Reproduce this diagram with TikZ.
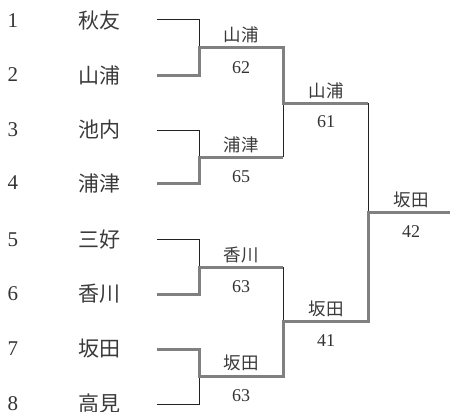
\documentclass[tikz,border=0pt]{standalone}
\usepackage{fontspec}
\newfontfamily\cjk{Noto Sans CJK JP}
\newfontfamily\dig{Liberation Serif}
\definecolor{txt}{HTML}{333333}
\definecolor{ctxt}{HTML}{3A3A3A}
\definecolor{win}{HTML}{808080}
\definecolor{lose}{HTML}{222222}
\begin{document}
\begin{tikzpicture}[x=1pt,y=-1pt,
  seed/.style={text=txt,font=\dig\fontsize{21}{21}\selectfont,anchor=center,inner sep=0pt},
  player/.style={text=ctxt,font=\cjk\fontsize{21}{21}\selectfont,anchor=center,inner sep=0pt},
  wname/.style={text=ctxt,font=\cjk\fontsize{17.5}{17.5}\selectfont,anchor=center,inner sep=0pt},
  score/.style={text=txt,font=\dig\fontsize{18}{18}\selectfont,anchor=center,inner sep=0pt},
  thin/.style={draw=lose,line width=1pt},
  thick/.style={draw=win,line width=3pt,line join=miter}]
\useasboundingbox (0,0) rectangle (450,412);
% seeds and players
\foreach \i/\n/\y in {1/秋友/21,2/山浦/75,3/池内/130,4/浦津/183,5/三好/240,6/香川/294,7/坂田/349,8/高見/404}{
  \node[seed] (s\i) at (13,\y) {\i};
  \node[player] (n\i) at (99,\y) {\n};
}
% line starts and round-1 corners
\foreach \i/\y in {1/20,2/76,3/130,4/183,5/239,6/294,7/349,8/404}{
  \coordinate (a\i) at (157,\y);
  \coordinate (b\i) at (199,\y);
}
% match junctions
\coordinate (m1) at (199,48);  \coordinate (e1) at (283,48);
\coordinate (m2) at (199,157); \coordinate (e2) at (283,157);
\coordinate (m3) at (199,267); \coordinate (e3) at (283,267);
\coordinate (m4) at (199,376); \coordinate (e4) at (283,376);
\coordinate (r1) at (283,103); \coordinate (f1) at (368,103);
\coordinate (r2) at (283,321); \coordinate (f2) at (368,321);
\coordinate (fm) at (368,212); \coordinate (fe) at (450,212);
% thin (losing) lines
\draw[thin] (a1) -- (b1) -- (m1);
\draw[thin] (a3) -- (b3) -- (m2);
\draw[thin] (a5) -- (b5) -- (m3);
\draw[thin] (a8) -- (b8) -- (m4);
\draw[thin] (e2) -- (r1);
\draw[thin] (e3) -- (r2);
\draw[thin] (f1) -- (fm);
% thick (winning) lines
\draw[thick] (a2) -- (b2) -- (m1) -- (e1) -- (r1) -- (f1);
\draw[thick] (a4) -- (b4) -- (m2) -- (e2);
\draw[thick] (a6) -- (b6) -- (m3) -- (e3);
\draw[thick] (a7) -- (b7) -- (m4) -- (e4) -- (r2) -- (f2) -- (fm) -- (fe);
% winner labels and scores
\node[wname] (w1) at (241,35) {山浦};  \node[score] (c1) at (241,68) {62};
\node[wname] (w2) at (241,145) {浦津}; \node[score] (c2) at (241,177) {65};
\node[wname] (w3) at (241,255) {香川}; \node[score] (c3) at (241,287) {63};
\node[wname] (w4) at (241,363) {坂田}; \node[score] (c4) at (241,396) {63};
\node[wname] (w5) at (326,91) {山浦};  \node[score] (c5) at (326,122) {61};
\node[wname] (w6) at (326,309) {坂田}; \node[score] (c6) at (326,341) {41};
\node[wname] (w7) at (411,200) {坂田}; \node[score] (c7) at (411,232) {42};
\end{tikzpicture}
\end{document}
